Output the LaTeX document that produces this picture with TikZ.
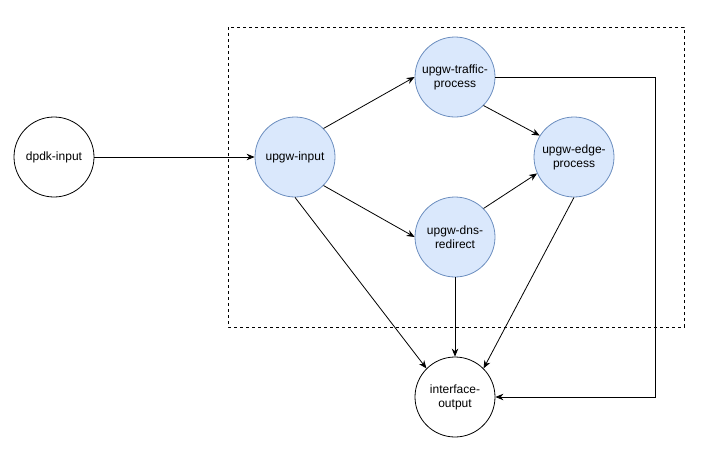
\documentclass[tikz,border=0pt]{standalone}
\usepackage{fontspec}
\setmainfont{Liberation Sans}
\usetikzlibrary{arrows.meta}
\definecolor{fillblue}{HTML}{DAE8FC}
\definecolor{drawblue}{HTML}{6C8EBF}
\tikzset{
  block/.style={circle,draw,minimum size=80pt,inner sep=0pt,align=center,
    font=\fontsize{12}{14}\selectfont},
  fn/.style={block,draw=drawblue,fill=fillblue}
}
\begin{document}
\begin{tikzpicture}[x=1pt,y=-1pt,line width=0.8pt,
    >={Stealth[length=8pt,width=6.5pt]}]
      \useasboundingbox (0,0) rectangle (719,461);
      \draw[line width=0.6pt,dash pattern=on 3pt off 3pt] (228,27) rectangle (684,327);

      \node[block] (1) at (54,157) {dpdk-input};
      \node[fn,right of=1,node distance=241pt] (2) {upgw-input};
      \node[fn] (3) at (455,77) {upgw-traffic-\\process};
      \node[fn] (4) at (574,157) {upgw-edge-\\process};
      \node[fn] (5) at (455,237) {upgw-dns-\\redirect};
      \node[block,below of=5,node distance=160pt] (6) {interface-\\output};
      \coordinate (7) at (655,397);

      \draw[->] (1) -- (2);
      \draw[->] (2.45) -- (3.west);
      \draw[->] (2.-45) -- (5.west);
      \draw[->] (3.-45) -- (4.148);
      \draw[->] (5.45) -- (4.204);
      \draw[->] (2.south) -- (6.north west);
      \draw[->] (5) -- (6);
      \draw[->] (4.south) -- (6.north east);
      \draw[->] (3.east) -| (7) -- (6.east);
    \end{tikzpicture}
\end{document}
